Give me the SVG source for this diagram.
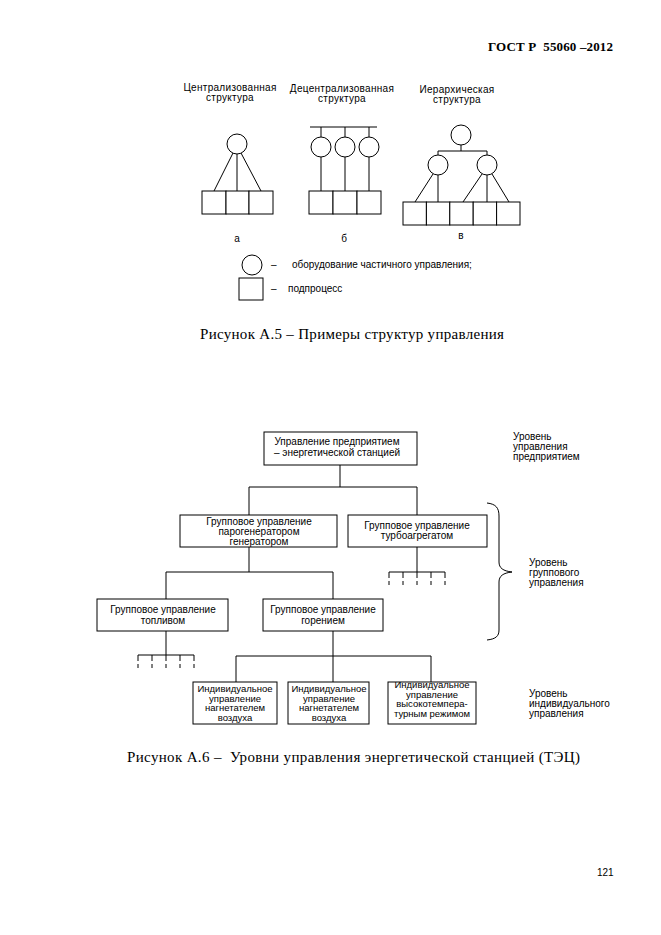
<svg xmlns="http://www.w3.org/2000/svg" width="661" height="935" viewBox="0 0 661 935">
<style>
.s{font-family:"Liberation Sans",Arial,sans-serif;font-size:10px;fill:#000}
.m{text-anchor:middle}
.w{letter-spacing:0.3px}
.f{font-size:9.5px}
.t{font-family:"Liberation Serif","Times New Roman",serif;fill:#000}
.ln{stroke:#000;stroke-width:1;fill:none}
.bx{stroke:#000;stroke-width:1;fill:#fff}
.d{stroke:#000;stroke-width:1;fill:none;stroke-dasharray:6 3 4 20}
</style>
<rect width="661" height="935" fill="#fff"/>
<text class="t" x="488" y="51" font-size="13" font-weight="bold" textLength="125" lengthAdjust="spacing" xml:space="preserve">ГОСТ Р  55060 –2012</text>

<!-- Figure A.5 -->
<g id="centralized">
<text class="s m w" x="230" y="91">Централизованная</text>
<text class="s m w" x="230" y="101">структура</text>
<circle class="bx" cx="237" cy="144" r="10"/>
<path class="ln" d="M233,153 L214,191 M237,154 L237,191 M241,153 L261,191"/>
<rect class="bx" x="202" y="191" width="24" height="23"/>
<rect class="bx" x="226" y="191" width="23" height="23"/>
<rect class="bx" x="249" y="191" width="24" height="23"/>
<text class="s m" x="237" y="242">а</text>
</g>
<g id="decentralized">
<text class="s m w" x="342" y="92">Децентрализованная</text>
<text class="s m w" x="342" y="102">структура</text>
<path class="ln" d="M310,127 L377,127 M321,127 L321,137 M345,127 L345,137 M369,127 L369,137 M321,157 L321,191 M345,157 L345,191 M369,157 L369,191"/>
<circle class="bx" cx="321" cy="147" r="10"/>
<circle class="bx" cx="345" cy="147" r="10"/>
<circle class="bx" cx="369" cy="147" r="10"/>
<rect class="bx" x="309" y="191" width="24" height="23"/>
<rect class="bx" x="333" y="191" width="24" height="23"/>
<rect class="bx" x="357" y="191" width="24" height="23"/>
<text class="s m" x="344" y="242">б</text>
</g>
<g id="hierarchical">
<text class="s m w" x="457" y="93">Иерархическая</text>
<text class="s m w" x="457" y="103">структура</text>
<circle class="bx" cx="461" cy="135" r="10"/>
<path class="ln" d="M461,145 L461,151 M438,151 L487,151 M438,151 L438,155 M487,151 L487,155"/>
<circle class="bx" cx="438" cy="165" r="10"/>
<circle class="bx" cx="487" cy="165" r="10"/>
<path class="ln" d="M433,174 L415,202 M438,175 L438,202 M482,174 L463,202 M487,175 L487,202 M492,174 L509,202"/>
<rect class="bx" x="403" y="202" width="23.4" height="23"/>
<rect class="bx" x="426.4" y="202" width="23.4" height="23"/>
<rect class="bx" x="449.8" y="202" width="23.4" height="23"/>
<rect class="bx" x="473.2" y="202" width="23.4" height="23"/>
<rect class="bx" x="496.6" y="202" width="23.4" height="23"/>
<text class="s m" x="461" y="239">в</text>
</g>
<g id="legend">
<circle class="bx" cx="252" cy="265" r="10"/>
<text class="s" x="271" y="268">–</text>
<text class="s" x="292" y="268" font-size="9">оборудование частичного управления;</text>
<rect class="bx" x="239" y="278" width="24" height="22"/>
<text class="s" x="271" y="292">–</text>
<text class="s" x="288" y="292" font-size="9">подпроцесс</text>
</g>
<text class="t" x="200" y="339" font-size="15" textLength="304" lengthAdjust="spacing">Рисунок А.5 – Примеры структур управления</text>

<!-- Figure A.6 -->
<g id="connectors">
<path class="ln" d="M340,465 L340,487 M249,487 L417,487 M249,487 L249,515 M417,487 L417,515"/>
<path class="ln" d="M249,547 L249,572 M166,572 L333,572 M166,572 L166,599 M333,572 L333,599"/>
<path class="ln" d="M417,547 L417,572 M389,572 L445,572"/>
<path class="d" d="M389,572 L389,590 M403,572 L403,590 M417,572 L417,590 M431,572 L431,590 M445,572 L445,590"/>
<path class="ln" d="M166,631 L166,655 M138,655 L194,655"/>
<path class="d" d="M138,655 L138,673 M152,655 L152,673 M166,655 L166,673 M180,655 L180,673 M194,655 L194,673"/>
<path class="ln" d="M333,631 L333,682 M236,656 L431,656 M236,656 L236,682 M431,656 L431,682"/>
<path class="ln" d="M487,503 C496,504 499,508 499,516 L499,562 C499,568 503,571 512,572 C503,573 499,576 499,582 L499,630 C499,636 496,639 487,640"/>
</g>
<g id="n-enterprise">
<rect class="bx" x="264" y="432" width="153" height="33"/>
<text class="s m" x="337" y="445">Управление предприятием</text>
<text class="s m" x="337" y="456">– энергетической станцией</text>
</g>
<g id="n-steam">
<rect class="bx" x="180" y="515" width="157" height="32"/>
<text class="s m" x="259" y="525">Групповое управление</text>
<text class="s m" x="259" y="535">парогенератором</text>
<text class="s m" x="259" y="545">генератором</text>
</g>
<g id="n-turbo">
<rect class="bx" x="348" y="515" width="139" height="32"/>
<text class="s m" x="417" y="529">Групповое управление</text>
<text class="s m" x="417" y="539">турбоагрегатом</text>
</g>
<g id="n-fuel">
<rect class="bx" x="97" y="599" width="131" height="32"/>
<text class="s m" x="163" y="613">Групповое управление</text>
<text class="s m" x="163" y="624">топливом</text>
</g>
<g id="n-burn">
<rect class="bx" x="263" y="599" width="120" height="32"/>
<text class="s m" x="323" y="613">Групповое управление</text>
<text class="s m" x="323" y="624">горением</text>
</g>
<g id="n-ind1">
<rect class="bx" x="193" y="682" width="84" height="42"/>
<text class="s m f" x="235" y="692">Индивидуальное</text>
<text class="s m f" x="235" y="701.5">управление</text>
<text class="s m f" x="235" y="711">нагнетателем</text>
<text class="s m f" x="235" y="720.5">воздуха</text>
</g>
<g id="n-ind2">
<rect class="bx" x="288" y="682" width="81" height="42"/>
<text class="s m f" x="329" y="692">Индивидуальное</text>
<text class="s m f" x="329" y="701.5">управление</text>
<text class="s m f" x="329" y="711">нагнетателем</text>
<text class="s m f" x="329" y="720.5">воздуха</text>
</g>
<g id="n-ind3">
<rect class="bx" x="388" y="682" width="88" height="42"/>
<text class="s m f" x="432" y="688">Индивидуальное</text>
<text class="s m f" x="432" y="697.5">управление</text>
<text class="s m f" x="432" y="707">высокотемпера-</text>
<text class="s m f" x="432" y="716.5">турным режимом</text>
</g>
<g id="levels">
<text class="s" x="513" y="440" font-size="9">Уровень</text>
<text class="s" x="513" y="450" font-size="9">управления</text>
<text class="s" x="513" y="460" font-size="9">предприятием</text>
<text class="s" x="529" y="566" font-size="9">Уровень</text>
<text class="s" x="529" y="576" font-size="9">группового</text>
<text class="s" x="529" y="586" font-size="9">управления</text>
<text class="s" x="529" y="697" font-size="9">Уровень</text>
<text class="s" x="529" y="707" font-size="9">индивидуального</text>
<text class="s" x="529" y="717" font-size="9">управления</text>
</g>
<text class="t" x="127" y="762" font-size="15" textLength="453" lengthAdjust="spacing" xml:space="preserve">Рисунок А.6 –  Уровни управления энергетической станцией (ТЭЦ)</text>
<text class="s" x="597" y="876" font-size="11">121</text>
</svg>
